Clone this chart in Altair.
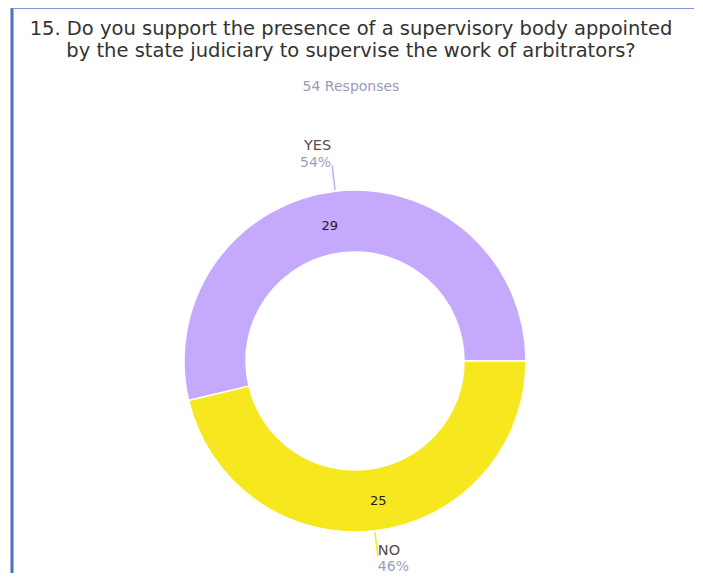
import altair as alt
import pandas as pd

# ---- data ----
answers = ["YES", "NO"]
counts = [29, 25]
order_idx = [0, 1]
slice_colors = ["#c5a9fd", "#f7e71f"]

title_lines = [
    "15. Do you support the presence of a supervisory body appointed",
    "by the state judiciary to supervise the work of arbitrators?",
]
subtitle_text = "54 Responses"

df = pd.DataFrame({"answer": answers, "count": counts, "i": order_idx})

W, H = 686, 565
CX, CY = 347, 353
R_IN, R_OUT = 109, 171
R_LBL = R_OUT + 26
FONT = "DejaVu Sans"

base = (
    alt.Chart(df)
    .transform_window(cum="sum(count)", sort=[alt.SortField("i")], frame=[None, 0])
    .transform_joinaggregate(total="sum(count)")
    .transform_calculate(
        a1="5*PI/2 - 2*PI*(datum.cum - datum.count)/datum.total",
        a0="5*PI/2 - 2*PI*datum.cum/datum.total",
    )
    .transform_calculate(
        mid="(datum.a0 + datum.a1)/2",
        pct="round(100*datum.count/datum.total) + '%'",
    )
    .transform_calculate(l0="datum.mid - 0.004", l1="datum.mid + 0.004")
)

color = alt.Color(
    "answer:N",
    scale=alt.Scale(domain=answers, range=slice_colors),
    legend=None,
)

center = dict(x=alt.value(CX), y=alt.value(CY))

arcs = base.mark_arc(
    innerRadius=R_IN, outerRadius=R_OUT, stroke="white", strokeWidth=1.5
).encode(theta=alt.Theta("a0:Q", scale=None), theta2="a1:Q", color=color, **center)

leaders = base.mark_arc(innerRadius=R_OUT + 1, outerRadius=R_LBL).encode(
    theta=alt.Theta("l0:Q", scale=None), theta2="l1:Q", color=color, **center
)

yes = base.transform_filter("datum.answer == 'YES'")
no = base.transform_filter("datum.answer == 'NO'")
inner = dict(theta=alt.Theta("mid:Q", scale=None), radius=alt.value(140), **center)
polar = dict(theta=alt.Theta("mid:Q", scale=None), radius=alt.value(R_LBL), **center)

yes_cnt = yes.mark_text(fontSize=13, font=FONT, color="#1e1e1e", dx=-9, dy=4).encode(
    text="count:Q", **inner
)
no_cnt = no.mark_text(fontSize=13, font=FONT, color="#1e1e1e", dx=7, dy=1).encode(
    text="count:Q", **inner
)

yes_lbl = yes.mark_text(
    fontSize=14.5, font=FONT, color="#574b4c", align="right", baseline="alphabetic", dy=-15, dx=-1
).encode(text="answer:N", **polar)
yes_pct = yes.mark_text(
    fontSize=14, font=FONT, color="#9e9cba", align="right", baseline="alphabetic", dy=2, dx=-1
).encode(text="pct:N", **polar)
no_lbl = no.mark_text(
    fontSize=14.5, font=FONT, color="#574b4c", align="left", baseline="alphabetic", dy=-2, dx=0
).encode(text="answer:N", **polar)
no_pct = no.mark_text(
    fontSize=14, font=FONT, color="#9e9cba", align="left", baseline="alphabetic", dy=14, dx=0
).encode(text="pct:N", **polar)

frame_df = pd.DataFrame({"k": [0]})
left_border = alt.Chart(frame_df).mark_rule(color="#4472c4", strokeWidth=3).encode(
    x=alt.value(4), y=alt.value(0), y2=alt.value(H)
)
top_border = alt.Chart(frame_df).mark_rule(color="#7a98d6", strokeWidth=2).encode(
    x=alt.value(4), x2=alt.value(W), y=alt.value(0)
)

chart = (
    alt.layer(arcs, leaders, yes_cnt, no_cnt, yes_lbl, yes_pct, no_lbl, no_pct,
              left_border, top_border)
    .properties(
        width=W,
        height=H,
        autosize=alt.AutoSizeParams(type="none"),
        padding=0,
        title=alt.TitleParams(
            text=title_lines,
            subtitle=subtitle_text,
            anchor="middle",
            frame="group",
            font=FONT,
            fontSize=19.5,
            fontWeight="normal",
            color="#333333",
            lineHeight=22,
            subtitleFont=FONT,
            subtitleFontSize=14,
            subtitleColor="#9a9ab6",
            subtitlePadding=18,
            offset=-88,
        ),
    )
    .configure_view(stroke=None)
)

chart.save("out.html", embed_options={"renderer": "svg", "actions": False})
